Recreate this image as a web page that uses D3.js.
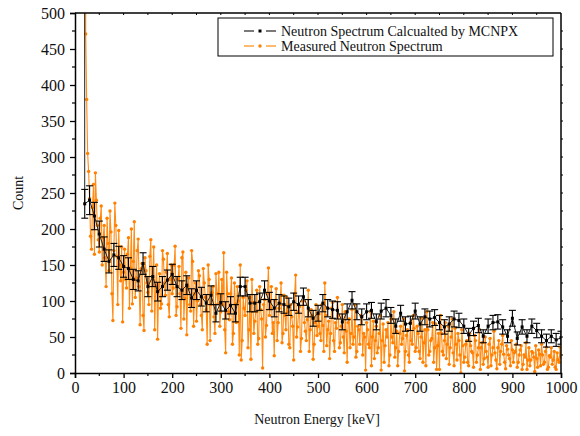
<!DOCTYPE html>
<html>
<head>
<meta charset="utf-8">
<script src="https://cdn.jsdelivr.net/npm/d3@7"></script>
<style>
  body { margin: 0; background: #fff; }
  text { font-family: "Liberation Serif", "DejaVu Serif", serif; }
</style>
</head>
<body>
<div id="chart"></div>
<script>
/**
 * CONSTANTS
 * */
const width = 580,
  height = 436,
  margin = { top: 13, bottom: 63, left: 75, right: 19 };

/* DATA */
const xTicks = [0, 100, 200, 300, 400, 500, 600, 700, 800, 900, 1000];
const yTicks = [0, 50, 100, 150, 200, 250, 300, 350, 400, 450, 500];

// MCNPX: energy grid in keV (first point is the off-scale spike)
const mcnpxEnergy = [18].concat(d3.range(20, 1001, 10));
const mcnpxCount = [5000,
  235, 240, 218, 193, 172, 155, 164, 160, 148, 145,
  130, 128, 152, 120, 134, 113, 120, 129, 137, 120,
  115, 122, 104, 115, 106, 97, 108, 83, 98, 87,
  94, 83, 120, 120, 97, 97, 99, 115, 100, 90,
  97, 95, 92, 99, 95, 106, 90, 76, 83, 97,
  90, 88, 87, 71, 85, 101, 85, 78, 85, 87,
  71, 86, 90, 80, 65, 83, 68, 69, 86, 68,
  78, 75, 77, 70, 64, 68, 75, 73, 65, 53,
  62, 66, 51, 65, 70, 71, 64, 51, 76, 48,
  64, 51, 65, 59, 51, 45, 51, 46, 49];
const mcnpxError = [0,
  20, 20, 19, 18, 17, 16, 16, 16, 15, 15,
  14, 14, 15, 14, 14, 13, 14, 14, 14, 14,
  13, 13, 13, 13, 13, 12, 13, 12, 12, 12,
  12, 12, 13, 13, 12, 12, 12, 13, 12, 12,
  12, 12, 12, 12, 12, 12, 12, 11, 11, 12,
  12, 12, 12, 11, 11, 12, 11, 11, 11, 11,
  11, 11, 12, 11, 10, 11, 10, 10, 11, 10,
  11, 11, 11, 10, 10, 10, 11, 10, 10, 9,
  10, 10, 9, 10, 10, 10, 10, 9, 11, 9,
  10, 9, 10, 10, 9, 9, 9, 9, 9];

// Measured, channels at 22, 26, 30 ... 998 keV
const measCountA = [
  471, 305, 242, 172, 262, 278, 205, 168, 232, 188, 160, 215, 142, 196, 73, 236, 162, 198, 128, 71,
  172, 118, 188, 146, 96, 210, 132, 186, 67, 152, 59, 142, 112, 162, 86, 175, 122, 47, 138, 96, 158, 108, 166, 78, 150,
  118, 176, 92, 148, 62, 168, 104, 53, 132, 86, 155, 110, 72, 142, 95, 60, 125, 88, 150, 45, 112, 78, 138, 96, 65,
  130, 167, 28, 110, 74, 132, 55, 96, 120, 25, 18, 105, 80, 128, 60, 19, 98, 72, 115, 48, 88, 7, 102, 66, 146,
  90, 55, 24, 117, 70, 95, 42, 108, 60, 85, 35, 78, 18, 136, 64, 92, 48, 100, 58, 74, 30, 88, 19, 70, 52,
  82, 45, 66, 125, 38, 72, 55, 98, 30, 62, 80, 42, 95, 28, 58, 70, 35, 88, 50, 22, 65, 40, 78, 55, 4,
  60, 35, 10, 72, 45, 28, 55, 4, 68, 38, 50, 10, 75, 42, 22, 58, 30, 65, 48, 3, 52, 25, 70, 40, 62,
  35, 55, 20, 76, 42, 10, 60, 30, 48, 15, 68, 38, 5, 55, 25, 70, 40, 12, 50, 28, 62, 18, 45, 0, 38,
  22, 45, 10, 38, 28, 52, 15, 35, 5, 42, 20, 30, 8, 48, 25, 58, 18, 35, 12, 40, 26, 6, 33, 20, 45,
  15, 30, 8, 25, 38, 12, 22, 5, 35, 18, 28, 2, 20, 32, 10, 25, 15, 36, 8, 22, 12, 30, 5, 18, 36];
// Measured, channels at 24, 28, 32 ... 1000 keV
const measCountB = [
  380, 280, 190, 230, 165, 240, 185, 215, 150, 205, 120, 180, 225, 110, 170, 205, 95, 150, 175, 140,
  130, 165, 90, 200, 155, 105, 170, 120, 145, 80, 160, 125, 95, 185, 130, 60, 150, 115, 90, 170, 125, 140, 95, 130, 110,
  150, 80, 130, 110, 160, 75, 140, 120, 95, 170, 65, 125, 100, 135, 80, 145, 105, 40, 130, 95, 120, 55, 110, 140, 85,
  95, 60, 140, 85, 110, 40, 125, 70, 100, 150, 45, 90, 115, 35, 105, 130, 55, 85, 40, 120, 75, 95, 50, 110, 80,
  120, 70, 100, 45, 90, 125, 55, 80, 105, 40, 95, 65, 110, 50, 85, 30, 100, 70, 45, 115, 60, 80, 40, 95, 65,
  55, 95, 30, 80, 60, 20, 90, 45, 70, 105, 35, 65, 50, 85, 15, 75, 55, 40, 95, 30, 60, 80, 25, 50, 70,
  40, 85, 50, 20, 65, 35, 80, 45, 15, 60, 70, 25, 50, 85, 35, 10, 55, 40, 75, 30, 60, 15, 45, 80, 30,
  65, 30, 50, 15, 60, 85, 25, 45, 70, 35, 5, 55, 80, 30, 45, 20, 65, 35, 75, 10, 40, 55, 25, 60, 15,
  40, 15, 55, 30, 8, 45, 25, 60, 35, 12, 50, 22, 40, 10, 35, 28, 6, 45, 30, 52, 15, 38, 25, 10, 32,
  28, 40, 15, 32, 5, 25, 42, 18, 10, 30, 22, 38, 8, 26, 40, 12, 30, 5, 24, 35, 18, 8, 28, 15, 22];
// off-scale first channel of the measurement
const measSpike = { e: 21, c: 3000 };

const seriesNames = ["Neutron Spectrum Calcualted by MCNPX", "Measured Neutron Spectrum"];

const black = "#000",
  orangeDot = "#ff8000",
  orangeLine = "#ff8c14";

// build tables for d3
const mcnpx = mcnpxEnergy.map((e, i) => ({ e, c: mcnpxCount[i], err: mcnpxError[i] }));
const meas = [measSpike];
measCountA.forEach((c, i) => {
  meas.push({ e: 22 + 4 * i, c });
  meas.push({ e: 24 + 4 * i, c: measCountB[i] });
});

// SCALES
const xScale = d3.scaleLinear().domain([0, 1000]).range([margin.left, width - margin.right]);
const yScale = d3.scaleLinear().domain([0, 500]).range([height - margin.bottom, margin.top]);

const svg = d3.select("#chart").append("svg")
  .attr("width", width)
  .attr("height", height);

svg.append("defs").append("clipPath").attr("id", "plot-clip")
  .append("rect")
  .attr("x", margin.left)
  .attr("y", margin.top)
  .attr("width", width - margin.left - margin.right)
  .attr("height", height - margin.top - margin.bottom);

const plot = svg.append("g").attr("clip-path", "url(#plot-clip)");

const lineFunc = d3.line().x(d => xScale(d.e)).y(d => yScale(d.c));

// measured series (underneath)
plot.append("path")
  .datum(meas)
  .attr("fill", "none")
  .attr("stroke", orangeLine)
  .attr("stroke-width", 1.1)
  .attr("d", lineFunc);

plot.selectAll("circle.meas")
  .data(meas)
  .join("circle")
  .attr("class", "meas")
  .attr("cx", d => xScale(d.e))
  .attr("cy", d => yScale(d.c))
  .attr("r", 1.7)
  .attr("fill", orangeDot);

// MCNPX series
plot.append("path")
  .datum(mcnpx)
  .attr("fill", "none")
  .attr("stroke", "#222")
  .attr("stroke-width", 1)
  .attr("d", lineFunc);

const errG = plot.append("g").attr("stroke", black).attr("stroke-width", 1.1);
const bars = mcnpx.filter(d => d.err > 0);
errG.selectAll("line.v").data(bars).join("line").attr("class", "v")
  .attr("x1", d => xScale(d.e)).attr("x2", d => xScale(d.e))
  .attr("y1", d => yScale(d.c - d.err)).attr("y2", d => yScale(d.c + d.err));
errG.selectAll("line.top").data(bars).join("line").attr("class", "top")
  .attr("x1", d => xScale(d.e) - 3.5).attr("x2", d => xScale(d.e) + 3.5)
  .attr("y1", d => yScale(d.c + d.err)).attr("y2", d => yScale(d.c + d.err));
errG.selectAll("line.bot").data(bars).join("line").attr("class", "bot")
  .attr("x1", d => xScale(d.e) - 3.5).attr("x2", d => xScale(d.e) + 3.5)
  .attr("y1", d => yScale(d.c - d.err)).attr("y2", d => yScale(d.c - d.err));

plot.selectAll("rect.mc")
  .data(bars)
  .join("rect")
  .attr("class", "mc")
  .attr("x", d => xScale(d.e) - 1.5)
  .attr("y", d => yScale(d.c) - 1.5)
  .attr("width", 3)
  .attr("height", 3)
  .attr("fill", black);

// AXES
const xAxis = d3.axisBottom(xScale).tickValues(xTicks).tickFormat(d3.format("d")).tickSize(5).tickPadding(4);
const yAxis = d3.axisLeft(yScale).tickValues(yTicks).tickFormat(d3.format("d")).tickSize(5).tickPadding(5);

const gx = svg.append("g")
  .attr("transform", `translate(0,${height - margin.bottom})`)
  .call(xAxis);
const gy = svg.append("g")
  .attr("transform", `translate(${margin.left},0)`)
  .call(yAxis);

[gx, gy].forEach(g => {
  g.attr("font-family", "Liberation Serif").attr("font-size", 16);
  g.select(".domain").attr("stroke-width", 1.5);
  g.selectAll(".tick line").attr("stroke-width", 1.3);
  g.selectAll(".tick text")
    .style("font-family", "Liberation Serif")
    .style("font-size", "16px")
    .attr("fill", "#111");
});

// minor ticks
svg.append("g").selectAll("line")
  .data(d3.range(50, 1000, 100))
  .join("line")
  .attr("x1", d => xScale(d)).attr("x2", d => xScale(d))
  .attr("y1", height - margin.bottom).attr("y2", height - margin.bottom + 3)
  .attr("stroke", black).attr("stroke-width", 1.2);
svg.append("g").selectAll("line")
  .data(d3.range(25, 500, 50))
  .join("line")
  .attr("x1", margin.left - 3).attr("x2", margin.left)
  .attr("y1", d => yScale(d)).attr("y2", d => yScale(d))
  .attr("stroke", black).attr("stroke-width", 1.2);

// top and right frame with small ticks
svg.append("line")
  .attr("x1", margin.left).attr("x2", width - margin.right)
  .attr("y1", margin.top).attr("y2", margin.top)
  .attr("stroke", black).attr("stroke-width", 1.5);
svg.append("line")
  .attr("x1", width - margin.right).attr("x2", width - margin.right)
  .attr("y1", margin.top).attr("y2", height - margin.bottom)
  .attr("stroke", black).attr("stroke-width", 1.5);
svg.append("g").selectAll("line")
  .data(d3.range(50, 1000, 50))
  .join("line")
  .attr("x1", d => xScale(d)).attr("x2", d => xScale(d))
  .attr("y1", margin.top).attr("y2", margin.top + 2)
  .attr("stroke", black).attr("stroke-width", 1);
svg.append("g").selectAll("line")
  .data(d3.range(25, 500, 25))
  .join("line")
  .attr("x1", width - margin.right).attr("x2", width - margin.right + 2)
  .attr("y1", d => yScale(d)).attr("y2", d => yScale(d))
  .attr("stroke", black).attr("stroke-width", 1);

// axis labels
svg.append("text")
  .attr("x", xScale(500) - 1)
  .attr("y", 424)
  .attr("text-anchor", "middle")
  .style("font-size", "14px")
  .attr("fill", "#111")
  .text("Neutron Energy [keV]");

svg.append("text")
  .attr("transform", `translate(23,${yScale(250)}) rotate(-90)`)
  .attr("text-anchor", "middle")
  .style("font-size", "14px")
  .attr("fill", "#111")
  .text("Count");

// LEGEND
const legend = svg.append("g");
legend.append("rect")
  .attr("x", 218).attr("y", 18)
  .attr("width", 335).attr("height", 38)
  .attr("fill", "#fff")
  .attr("stroke", black)
  .attr("stroke-width", 1);

const legendRows = [
  { name: seriesNames[0], line: "#222", dot: black, shape: "rect", y: 31 },
  { name: seriesNames[1], line: orangeLine, dot: orangeDot, shape: "circle", y: 46 }
];
legendRows.forEach(r => {
  [[244, 254], [266, 276]].forEach(([a, b]) => {
    legend.append("line")
      .attr("x1", a).attr("x2", b)
      .attr("y1", r.y).attr("y2", r.y)
      .attr("stroke", r.line).attr("stroke-width", 1.2);
  });
  if (r.shape === "rect") {
    legend.append("rect")
      .attr("x", 258.5).attr("y", r.y - 1.5)
      .attr("width", 3).attr("height", 3)
      .attr("fill", r.dot);
  } else {
    legend.append("circle")
      .attr("cx", 260).attr("cy", r.y).attr("r", 1.7)
      .attr("fill", r.dot);
  }
  legend.append("text")
    .attr("x", 281).attr("y", r.y + 5)
    .style("font-size", "14px")
    .attr("fill", "#111")
    .text(r.name);
});
</script>
</body>
</html>
